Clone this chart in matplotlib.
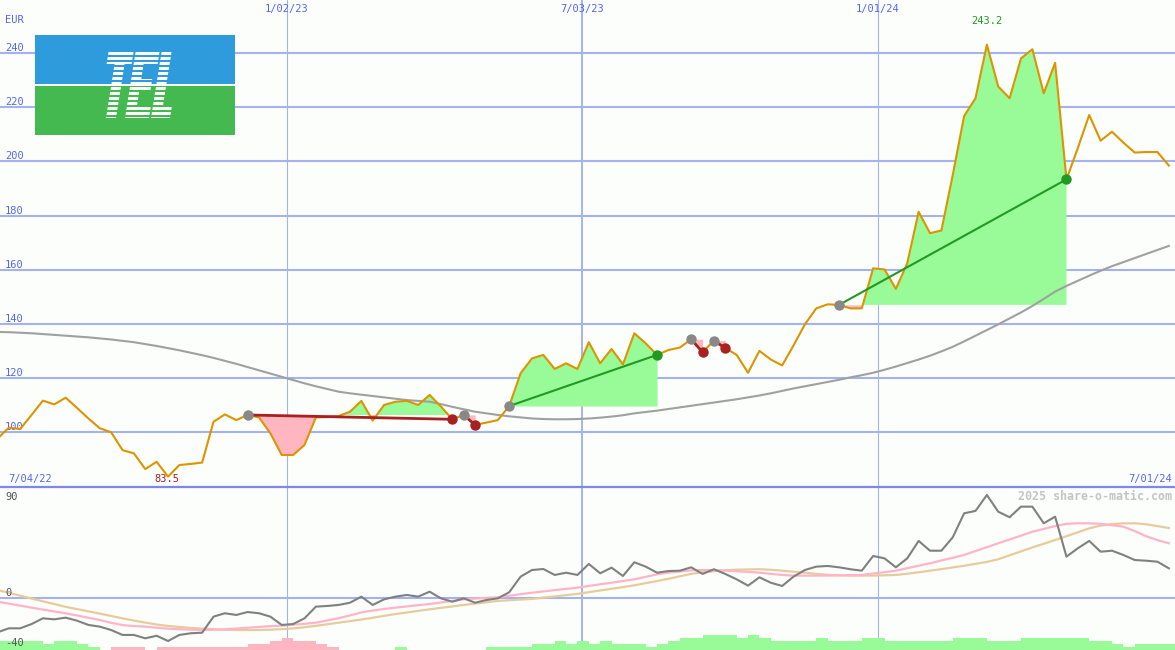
import matplotlib
matplotlib.use('Agg')
import matplotlib.pyplot as plt
import numpy as np
import pandas as pd
import matplotlib.dates as mdates
from matplotlib.patches import Rectangle, PathPatch
from matplotlib.path import Path
from matplotlib.transforms import Affine2D, blended_transform_factory

# ---------------- data ----------------
first_date = '2022-07-08'
price = [97.5, 101.6, 101.1, 106.3, 111.6, 110.2, 112.7, 108.9, 105.0, 101.4,
         99.9, 93.3, 92.1, 86.3, 89.0, 83.5, 87.8, 88.2, 88.7, 103.8,
         106.5, 104.4, 106.3, 105.4, 99.5, 91.5, 91.5, 95.2, 105.4, 105.5,
         105.9, 107.5, 111.5, 104.2, 110.0, 111.2, 111.5, 110.0, 113.7, 109.4,
         104.7, 106.3, 102.6, 103.5, 104.4, 109.6, 121.7, 127.2, 128.5, 123.3,
         125.4, 123.3, 133.2, 125.4, 130.7, 125.0, 136.5, 132.8, 128.5, 130.3,
         131.2, 134.3, 129.5, 133.8, 131.0, 128.5, 121.9, 130.0, 126.8, 124.6,
         132.0, 139.8, 145.7, 147.2, 147.0, 145.7, 145.7, 160.5, 160.1, 152.9,
         162.4, 181.4, 173.5, 174.5, 195.0, 216.8, 223.4, 243.2, 227.7, 223.4,
         238.1, 241.5, 225.2, 236.5, 193.4, 205.0, 217.2, 207.7, 211.0, 207.0,
         203.3, 203.5, 203.5, 198.5]

ma_long = [137.0, 136.9, 136.7, 136.5, 136.2, 135.9, 135.6, 135.3, 135.0, 134.6,
           134.2, 133.7, 133.2, 132.5, 131.8, 131.0, 130.2, 129.3, 128.4, 127.4,
           126.3, 125.2, 124.0, 122.8, 121.6, 120.4, 119.2, 118.0, 116.9, 115.9,
           114.9, 114.3, 113.8, 113.3, 112.8, 112.3, 111.8, 111.5, 111.2, 110.3,
           109.3, 108.4, 107.5, 106.9, 106.3, 105.8, 105.4, 105.0, 104.8, 104.7,
           104.7, 104.8, 105.0, 105.3, 105.7, 106.2, 106.9, 107.4, 107.9, 108.5,
           109.1, 109.7, 110.3, 110.9, 111.5, 112.1, 112.8, 113.5, 114.3, 115.2,
           116.1, 116.9, 117.7, 118.5, 119.3, 120.2, 121.0, 121.9, 123.0, 124.2,
           125.5, 126.8, 128.2, 129.8, 131.5, 133.5, 135.6, 137.7, 139.8, 142.0,
           144.2, 146.6, 149.2, 151.9, 154.0, 155.9, 157.8, 159.6, 161.3, 162.8,
           164.3, 165.8, 167.3, 168.8]

# trend signals: start index, end index, direction
sig_start = [22, 41, 45, 61, 63, 74]
sig_end = [40, 42, 58, 62, 64, 94]
sig_dir = ['down', 'down', 'up', 'down', 'down', 'up']

osc = [-30.6, -27, -27, -23.2, -18.1, -19, -17.5, -20.2, -24, -25.5,
       -28.5, -32.9, -32.9, -35.9, -33.6, -38.3, -32.9, -31.4, -30.9, -16.6,
       -13.6, -15.1, -12.5, -13.6, -16.6, -24, -23.2, -18.1, -7.7, -7.1,
       -6.2, -4.2, 1.2, -6.2, -1.2, 1.2, 2.7, 1.2, 5.6, -0.3,
       -3.3, -0.3, -4.2, -1.8, -0.3, 5.1, 19, 24.9, 25.8, 20.5,
       22.5, 20.5, 30.3, 22, 27, 19.6, 31.8, 27.9, 22.5, 24,
       24.3, 27.3, 21.4, 25.6, 21.4, 16.6, 11, 18.4, 13.6, 10.7,
       19, 24.9, 27.9, 28.5, 27.3, 25.6, 24.3, 37.4, 35.3, 27.3,
       35.3, 50.8, 42.1, 42.1, 54, 75.4, 77.5, 91.7, 76.8, 71.9,
       81.3, 81.3, 66.5, 72.4, 36.8, 44.3, 50.8, 41.2, 42.1, 38.3,
       33.8, 33.2, 32.3, 26.4]

osc_fast = [-3.3, -5.0, -6.8, -8.6, -10.3, -12.0, -13.6, -15.6, -17.6, -19.6,
            -22.1, -24.1, -25.0, -25.5, -26.5, -27.3, -27.8, -28.2, -28.5, -28.3,
            -27.9, -27.2, -26.5, -25.8, -25.0, -24.6, -23.8, -23.0, -22.0, -20.0,
            -18.0, -15.5, -12.8, -11.2, -9.8, -8.6, -7.5, -6.4, -5.3, -4.0,
            -2.6, -1.2, -0.5, 0.1, 0.6, 2.0, 3.4, 4.7, 5.8, 7.0,
            8.1, 9.2, 10.7, 12.2, 13.6, 15.1, 16.6, 18.8, 21.0, 22.6,
            23.6, 24.6, 24.9, 24.7, 24.4, 23.8, 23.2, 22.6, 21.5, 20.5,
            19.9, 19.9, 19.9, 20.0, 20.2, 20.4, 20.5, 21.8, 23.0, 24.3,
            26.5, 28.7, 30.9, 33.4, 35.8, 38.3, 41.8, 45.2, 48.7, 52.1,
            55.5, 59.0, 61.5, 64.0, 66.0, 66.5, 66.5, 66.0, 64.8, 63.5,
            59.5, 55.0, 51.5, 48.7]

osc_slow = [7.1, 4.6, 2.1, -0.5, -3.0, -5.4, -7.9, -9.9, -11.9, -13.9,
            -16.0, -18.1, -20.1, -21.9, -23.6, -24.9, -25.8, -26.6, -27.3, -27.8,
            -28.3, -28.5, -28.6, -28.5, -28.2, -27.7, -27.1, -26.0, -24.8, -23.4,
            -22.0, -20.6, -19.2, -17.6, -15.9, -14.3, -12.9, -11.5, -10.1, -8.8,
            -7.5, -6.2, -5.0, -3.8, -2.6, -2.0, -1.4, -0.8, 0.3, 1.4,
            2.5, 3.7, 5.2, 6.7, 8.2, 9.7, 11.3, 13.2, 15.1, 17.1,
            19.3, 21.5, 22.9, 23.8, 24.7, 25.2, 25.4, 25.6, 25.1, 24.3,
            23.4, 22.5, 21.5, 20.6, 20.1, 19.9, 19.9, 20.0, 20.2, 20.5,
            21.6, 22.9, 24.3, 25.7, 27.2, 28.7, 30.4, 32.1, 34.5, 38.0,
            41.5, 45.0, 48.3, 51.6, 55.0, 58.5, 62.0, 64.5, 65.8, 66.4,
            66.5, 65.6, 64.0, 62.3]

hist = [8, 8, 8, 8, 5.3, 8, 8, 5.3, 2.9, 0,
        -2.9, -2.9, -2.9, 0, -2.9, -2.9, -2.9, -2.9, -2.9, -2.9,
        -2.9, -2.9, -5.3, -5.3, -8, -11, -8, -8, -5.3, -2.9,
        0, 0, 0, 0, 0, 2.9, 0, 0, 0, 0,
        0, 0, 0, 2.9, 2.9, 2.9, 2.9, 5.3, 5.3, 8,
        5.3, 8, 5.3, 8, 5.3, 5.3, 5.3, 2.9, 5.3, 8,
        11, 11, 13.4, 13.4, 13.4, 11, 13.4, 11, 8, 8,
        8, 8, 11, 8, 8, 8, 11, 11, 8, 8,
        8, 8, 8, 8, 11, 11, 11, 8, 8, 8,
        11, 11, 11, 11, 11, 11, 8, 8, 5.3, 2.9,
        5.3, 5.3, 5.3, 5.3]

price_ticks = [100, 120, 140, 160, 180, 200, 220, 240]
osc_ticks = [90, 0, -40]
date_ticks = ['2023-01-02', '2023-07-03', '2024-01-01']
date_tick_labels = ['1/02/23', '7/03/23', '1/01/24']
range_labels = ['7/04/22', '7/01/24']
currency = 'EUR'
watermark = '2025 share-o-matic.com'

# ---------------- styles ----------------
BG = '#fcfefc'
GRID = '#a4b2f0'
SEP = '#7b88ee'
BLUE_TXT = '#5566ee'
PRICE_C = '#dc9400'
MA_C = '#a0a0a0'
FILL_G = '#98fb98'
FILL_P = '#ffb6c1'
UP_C = '#229922'
DOWN_C = '#a82020'
MARK_G = '#888888'
MONO = 'DejaVu Sans Mono'

x = mdates.date2num(pd.date_range(first_date, periods=len(price), freq='7D'))
p = np.array(price)
x_left = mdates.date2num(pd.Timestamp('2022-07-09 14:00'))
x_right = mdates.date2num(pd.Timestamp('2024-07-01 19:00'))
tick_x = mdates.date2num(pd.to_datetime(date_ticks))

W, H = 1175, 650
fig = plt.figure(figsize=(W / 100, H / 100), dpi=100, facecolor=BG)

TOP_H = 487
ax = fig.add_axes([0, (H - TOP_H) / H, 1, TOP_H / H])
ax2 = fig.add_axes([0, 0, 1, (H - TOP_H) / H])
for a in (ax, ax2):
    a.set_facecolor(BG)
    a.set_xlim(x_left, x_right)
    a.set_xticks([])
    a.set_yticks([])
    for s in a.spines.values():
        s.set_visible(False)
    for tx, lw in zip(tick_x, [0.8, 1.4, 0.8]):
        a.axvline(tx, color=GRID, lw=lw, zorder=0)

ax.set_ylim(79.67, 259.7)
ax2.set_ylim(-46.3, 98.8)
ax2.spines['top'].set_visible(True)
ax2.spines['top'].set_color(SEP)
ax2.spines['top'].set_linewidth(1.6)

# ---- top panel ----
for v in price_ticks:
    ax.axhline(v, color=GRID, lw=1.5, zorder=0)
    ax.annotate(str(v), xy=(0, v), xycoords=('axes fraction', 'data'),
                xytext=(5, 2), textcoords='offset pixels', ha='left',
                va='baseline', color=BLUE_TXT, fontsize=7.5, family=MONO)
ax.annotate(currency, xy=(0, 1), xycoords='axes fraction', xytext=(5, -20),
            textcoords='offset pixels', ha='left', va='center',
            color=BLUE_TXT, fontsize=7.5, family=MONO)
bt = blended_transform_factory(ax.transData, ax.transAxes)
for tx, lab in zip(tick_x, date_tick_labels):
    ax.text(tx, 1 - 9 / TOP_H, lab, transform=bt, ha='center', va='center',
            color=BLUE_TXT, fontsize=7.5, family=MONO)
ax.text(8 / W, 8 / TOP_H, range_labels[0], transform=ax.transAxes, ha='left',
        va='center', color=BLUE_TXT, fontsize=7.5, family=MONO)
ax.text(1 - 3 / W, 8 / TOP_H, range_labels[1], transform=ax.transAxes, ha='right',
        va='center', color=BLUE_TXT, fontsize=7.5, family=MONO)

imin, imax = int(np.argmin(p)), int(np.argmax(p))
ax.text(x[imin] - 1, 8 / TOP_H, f'{p[imin]:.1f}', transform=bt, ha='center',
        va='center', color=DOWN_C, fontsize=7.5, family=MONO)
ax.text(x[imax], 1 - 21 / TOP_H, f'{p[imax]:.1f}', transform=bt, ha='center',
        va='center', color=UP_C, fontsize=7.5, family=MONO)

for s, e, d in zip(sig_start, sig_end, sig_dir):
    sx = x[s:e + 1]
    sy = p[s:e + 1]
    lvl = p[s]
    ax.fill_between(sx, sy, lvl, where=sy >= lvl, interpolate=True,
                    color=FILL_G, lw=0, zorder=1)
    ax.fill_between(sx, sy, lvl, where=sy <= lvl, interpolate=True,
                    color=FILL_P, lw=0, zorder=1)

ax.plot(x, ma_long, color=MA_C, lw=1.5, zorder=2)
ax.plot(x, p, color=PRICE_C, lw=1.5, zorder=3)

for s, e, d in zip(sig_start, sig_end, sig_dir):
    c = UP_C if d == 'up' else DOWN_C
    ax.plot([x[s], x[e]], [p[s], p[e]], color=c,
            lw=1.5 if d == 'up' else 2.0, zorder=4, solid_capstyle='butt')
    ax.plot(x[s], p[s], 'o', color=MARK_G, ms=7.5, mec='none', zorder=5)
    ax.plot(x[e], p[e], 'o', color=c, ms=7.5, mec='none', zorder=5)

# ---- bottom panel ----
ax2.axhline(0, color=GRID, lw=1.5, zorder=0)
bottom = ax2.get_ylim()[0]
h = np.array(hist)
ax2.bar(x, np.abs(h), width=7, align='edge', bottom=bottom,
        color=[FILL_G if v > 0 else FILL_P for v in h], lw=0, zorder=1)
ax2.plot(x, osc_slow, color='#e6cc9c', lw=1.6, zorder=2)
ax2.plot(x, osc_fast, color='#ffb4c8', lw=1.6, zorder=3)
ax2.plot(x, osc, color='#808080', lw=1.5, zorder=4)

for v in osc_ticks:
    if v == 0:
        ax2.annotate(str(v), xy=(0, v), xycoords=('axes fraction', 'data'),
                     xytext=(5, 2), textcoords='offset pixels', ha='left',
                     va='baseline', color='#555555', fontsize=7.5, family=MONO)
    else:
        ax2.annotate(str(v), xy=(0, v), xycoords=('axes fraction', 'data'),
                     xytext=(5, 0), textcoords='offset pixels', ha='left',
                     va='center', color='#555555', fontsize=7.5, family=MONO)
ax2.annotate(watermark, xy=(1, osc_ticks[0]), xycoords=('axes fraction', 'data'),
             xytext=(-3, 0), textcoords='offset pixels', ha='right', va='center',
             color='#c4c4c4', fontsize=8.4, family=MONO, fontweight='bold')

# ---- logo overlay (pixel coordinates, decoration only) ----
ov = fig.add_axes([0, 0, 1, 1], zorder=10)
ov.set_xlim(0, W)
ov.set_ylim(H, 0)
ov.axis('off')
ov.patch.set_visible(False)
ov.add_patch(Rectangle((35, 35), 200, 49, color='#2d9bdc', lw=0))
ov.add_patch(Rectangle((35, 85.5), 200, 49.5, color='#43b94f', lw=0))

# block letters T, E, L as disjoint rectangles (x0, x1, y0, y1), y up
letter_blocks = [(0, 25, 54, 66), (8, 18, 0, 54),
                 (27, 37, 0, 66), (37, 51, 54, 66), (37, 48, 28, 39), (37, 51, 0, 12),
                 (53, 63, 0, 66), (63, 72, 0, 12)]
paths = []
for x0, x1, y0, y1 in letter_blocks:
    paths.append(Path([(x0, y0), (x1, y0), (x1, y1), (x0, y1), (x0, y0)],
                      [Path.MOVETO, Path.LINETO, Path.LINETO, Path.LINETO,
                       Path.CLOSEPOLY]))
letters = Path.make_compound_path(*paths)
tr = (Affine2D().skew(np.tan(np.radians(9)), 0)
      .scale(1, -1).translate(98, 118))
logo_path = tr.transform_path(letters)
clip = PathPatch(logo_path, transform=ov.transData, fc='none', ec='none')
for yy in np.arange(52, 118, 5.0):
    stripe = Rectangle((90, yy), 100, 2.8, color='white', lw=0)
    ov.add_patch(stripe)
    stripe.set_clip_path(clip)

fig.savefig('out.png', dpi=100, facecolor=BG)
